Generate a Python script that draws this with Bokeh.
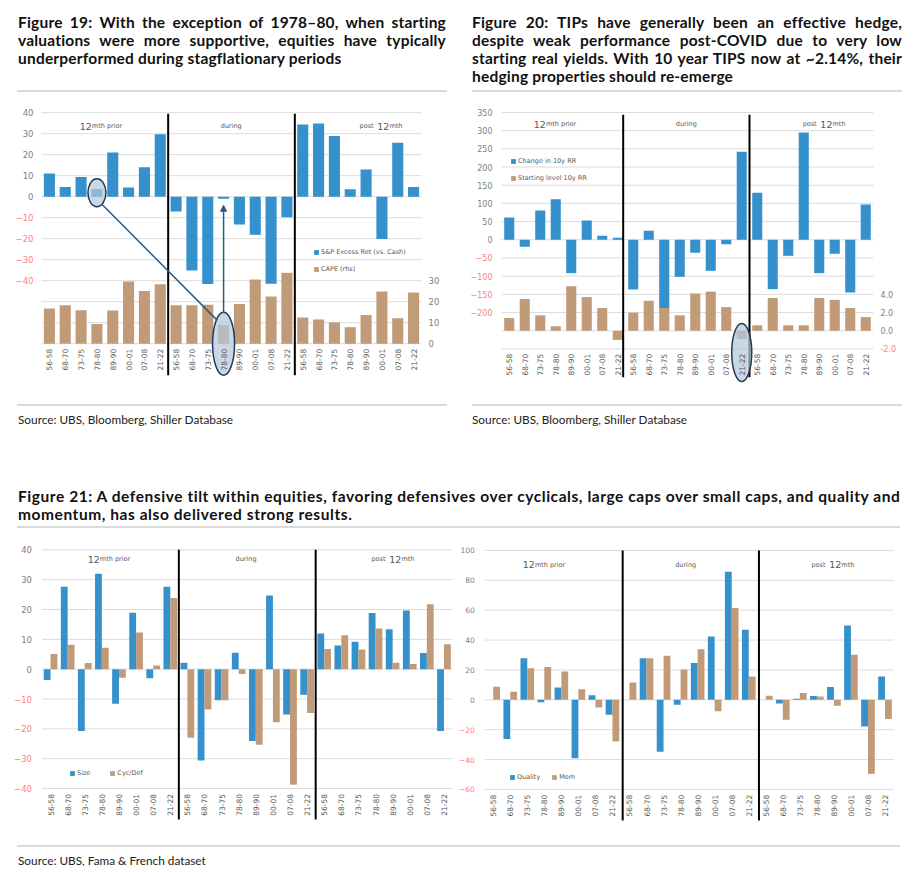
import math
from bokeh.plotting import figure
from bokeh.models import (Range1d, LinearAxis, FixedTicker, CustomJSTickFormatter,
                          PrintfTickFormatter, Legend, LegendItem, Label, Arrow,
                          NormalHead, Div)
from bokeh.layouts import column, row
from bokeh.embed import file_html
from bokeh.resources import INLINE

# ---------------- data ----------------
periods = ["56-58", "68-70", "73-75", "78-80", "89-90", "00-01", "07-08", "21-22"]
x_labels = periods * 3          # 12mth prior | during | post 12mth
phases = ["12mth prior", "during", "post 12mth"]

# Figure 19
sp_excess = [11.1, 4.6, 9.4, 3.7, 21.0, 4.4, 14.0, 29.7,
             -7.1, -35.2, -41.6, -1.0, -13.2, -18.1, -41.4, -9.8,
             34.4, 34.8, 28.9, 3.5, 13.0, -20.2, 25.7, 4.6]
cape_rhs = [16.8, 18.4, 16.0, 9.4, 15.9, 29.7, 25.1, 28.4,
            18.3, 18.3, 18.6, 9.0, 18.9, 30.6, 22.5, 33.8,
            12.5, 11.6, 10.2, 7.9, 13.7, 24.9, 12.2, 24.4]
f19_pos_ticks = [0, 10, 20, 30, 40]
f19_neg_ticks = [-10, -20, -30, -40]
f19_grid = [40, 30, 20, 10, 0, -10, -20, -30, -40, -50, -60, -70]
f19_rhs_ticks = [0, 10, 20, 30]

# Figure 20
rr_change = [61.4, -19.2, 80.6, 111.8, -91.6, 53.1, 11.0, 5.5,
             -136.5, 24.7, -188.0, -101.7, -35.7, -85.2, -11.9, 241.9,
             129.2, -135.6, -44.0, 295.0, -91.6, -38.5, -144.8, 97.1]
rr_start = [1.4, 3.5, 1.7, 0.5, 4.9, 3.7, 2.5, -1.0,
            2.0, 3.3, 2.5, 1.7, 4.1, 4.3, 2.6, -0.9,
            0.6, 3.6, 0.6, 0.6, 3.6, 3.4, 2.5, 1.5]
f20_pos_ticks = [0, 50, 100, 150, 200, 250, 300, 350]
f20_neg_ticks = [-50, -100, -150, -200]
f20_grid = [350, 300, 250, 200, 150, 100, 50, 0, -50, -100, -150, -200, -250, -300]
f20_rhs_pos_ticks = [0.0, 2.0, 4.0]
f20_rhs_neg_ticks = [-2.0]

# Figure 21 (left)
size_f = [-3.6, 27.6, -20.7, 32.0, -11.6, 18.9, -3.0, 27.6,
          2.2, -30.6, -10.4, 5.5, -24.1, 24.7, -15.2, -8.6,
          12.0, 7.9, 9.2, 18.8, 13.4, 19.7, 5.4, -20.7]
cyc_def = [5.1, 8.2, 2.1, 7.2, -2.9, 12.3, 1.2, 23.9,
           -23.0, -13.5, -10.4, -1.6, -25.3, -17.8, -38.7, -14.7,
           6.8, 11.4, 6.6, 13.6, 2.2, 1.7, 21.8, 8.4]
f21a_pos_ticks = [0, 10, 20, 30, 40]
f21a_neg_ticks = [-10, -20, -30, -40]
f21a_grid = [40, 30, 20, 10, 0, -10, -20, -30, -40]

# Figure 21 (right)
quality = [0.0, -26.3, 27.9, -1.6, 8.3, -39.1, 3.1, -10.0,
           0.0, 27.9, -34.8, -3.3, 24.6, 42.4, 85.7, 46.9,
           0.0, -2.5, 0.7, 2.5, 8.5, 49.8, -17.9, 15.6]
momentum = [8.7, 5.4, 21.2, 21.9, 19.0, 7.1, -5.1, -27.9,
            11.6, 27.9, 29.5, 20.3, 33.9, -7.6, 61.4, 15.6,
            2.7, -13.4, 4.5, 2.2, -4.0, 30.1, -49.6, -12.9]
f21b_pos_ticks = [0, 20, 40, 60, 80, 100]
f21b_neg_ticks = [-20, -40, -60]
f21b_grid = [100, 80, 60, 40, 20, 0, -20, -40, -60]

# ---------------- styling ----------------
BLUE = "#3591CC"
BROWN = "#C19B78"
GRID = "#DCDCDC"
POS = "#808080"
NEG = "#FF7C80"
TXT = "#595959"
ANN = "#2C5A80"
AX_FONT = "DejaVu Sans"
N = len(x_labels)
xs = [i + 0.5 for i in range(N)]


def base_fig(w, h, xr, yr):
    p = figure(width=w, height=h, x_range=Range1d(*xr), y_range=Range1d(*yr),
               output_backend="svg", toolbar_location=None, min_border=0,
               x_axis_location=None, y_axis_location=None,
               outline_line_color=None, margin=0)
    p.xgrid.visible = False
    p.ygrid.visible = False
    return p


def y_axis(p, ticks, color, loc, side, standoff, size, rng="default", fmt=None):
    ax = LinearAxis(ticker=FixedTicker(ticks=ticks, minor_ticks=[]), fixed_location=loc,
                    y_range_name=rng)
    ax.axis_line_color = None
    ax.major_tick_line_color = None
    ax.minor_tick_line_color = None
    ax.major_tick_in = 0
    ax.major_tick_out = 0
    ax.minor_tick_in = 0
    ax.minor_tick_out = 0
    ax.major_label_standoff = standoff
    ax.major_label_text_color = color
    ax.major_label_text_font = AX_FONT
    ax.major_label_text_font_size = size
    if fmt is not None:
        ax.formatter = fmt
    p.add_layout(ax, side)


def x_axis(p, loc, size="7.5px"):
    ax = LinearAxis(ticker=FixedTicker(ticks=xs, minor_ticks=[]), fixed_location=loc,
                    formatter=CustomJSTickFormatter(args=dict(labels=x_labels),
                                                    code="return labels[Math.floor(tick)];"))
    ax.axis_line_color = None
    ax.major_tick_line_color = None
    ax.minor_tick_line_color = None
    ax.major_tick_in = 0
    ax.major_tick_out = 0
    ax.minor_tick_in = 0
    ax.minor_tick_out = 0
    ax.major_label_standoff = 0
    ax.major_label_orientation = math.pi / 2
    ax.major_label_text_color = TXT
    ax.major_label_text_font = AX_FONT
    ax.major_label_text_font_size = size
    p.add_layout(ax, "below")


def header(p, x, y, parts):
    widths = [sum((0.64 if c.isdigit() else 0.33 if c == " " else 0.6) * s for c in t)
              for t, s in parts]
    off = -sum(widths) / 2
    for (t, s), w in zip(parts, widths):
        p.add_layout(Label(x=x, y=y, x_offset=off, text=t, text_font=AX_FONT,
                           text_font_size=f"{s}px", text_color=TXT,
                           text_align="left", text_baseline="alphabetic"))
        off += w


def headers(p, xs3, y):
    header(p, xs3[0], y, [("12", 9.5), ("mth prior", 6.5)])
    header(p, xs3[1], y, [("during", 6.5)])
    header(p, xs3[2], y, [("post ", 6.5), ("12", 9.5), ("mth", 6.5)])


def legend(p, items, loc, orientation="vertical", spacing=9):
    lg = Legend(items=[LegendItem(label=l, renderers=[r]) for l, r in items],
                location=loc, orientation=orientation, padding=0, margin=0,
                spacing=spacing, glyph_width=6, glyph_height=6, label_standoff=2,
                label_height=6, label_width=10, label_text_font=AX_FONT,
                label_text_font_size="6.5px", label_text_color=TXT,
                border_line_color=None, background_fill_alpha=0)
    p.add_layout(lg)


# ---------------- Figure 19 ----------------
p19 = base_fig(447, 300, (-2.084, 26.147), (-94.67, 48.19))
p19.extra_y_ranges = {"cape": Range1d(-24.62, 118.24)}
p19.segment(x0=0, x1=N, y0=f19_grid, y1=f19_grid, line_color=GRID, line_width=1)
r_sp = p19.vbar(x=xs, top=sp_excess, bottom=0, width=0.7, fill_color=BLUE, line_color=None)
r_cape = p19.vbar(x=xs, top=cape_rhs, bottom=0, width=0.7, fill_color=BROWN,
                  line_color=None, y_range_name="cape")
p19.segment(x0=[8, 16], x1=[8, 16], y0=39.5, y1=-85, line_color="black", line_width=2)
i_hi = periods.index("78-80")
# highlight ellipses
p19.ellipse(x=[xs[i_hi]], y=[sp_excess[i_hi] / 2], width=18, height=28,
            width_units="screen", height_units="screen",
            fill_color="#B4C8DA", fill_alpha=0.7, line_color="#1E3A56", line_width=1.5)
p19.ellipse(x=[xs[8 + i_hi]], y=[0], width=22, height=63,
            width_units="screen", height_units="screen", y_range_name="cape",
            fill_color="#B4C8DA", fill_alpha=0.7, line_color="#1E3A56", line_width=1.5)
p19.add_layout(Arrow(end=None, x_start=3.83, y_start=-3.7, x_end=11.1, y_end=-58.9,
                     line_color=ANN, line_width=1.5))
p19.add_layout(Arrow(end=NormalHead(size=6, fill_color=ANN, line_color=ANN),
                     x_start=xs[8 + i_hi], y_start=-55.4, x_end=xs[8 + i_hi], y_end=-4.1,
                     line_color=ANN, line_width=1.5))
y_axis(p19, f19_pos_ticks, POS, 0, "left", 8, "8.5px")
y_axis(p19, f19_neg_ticks, NEG, 0, "left", 8, "8.5px")
y_axis(p19, f19_rhs_ticks, POS, N, "right", 7, "8.5px", rng="cape")
x_axis(p19, -72.4)
headers(p19, [3.85, 12.06, 21.4], 33.5)
legend(p19, [("S&P Excess Ret (vs. Cash)", r_sp), ("CAPE (rhs)", r_cape)], (305, 122))

# ---------------- Figure 20 ----------------
p20 = base_fig(452, 300, (-2.968, 26.194), (-427.9, 396.6))
p20.extra_y_ranges = {"rr": Range1d(-7.116, 25.864)}
p20.segment(x0=0, x1=N, y0=f20_grid, y1=f20_grid, line_color=GRID, line_width=1)
r_ch = p20.vbar(x=xs, top=rr_change, bottom=0, width=0.65, fill_color=BLUE, line_color=None)
r_st = p20.vbar(x=xs, top=rr_start, bottom=0, width=0.65, fill_color=BROWN,
                line_color=None, y_range_name="rr")
p20.segment(x0=[7.85, 16.0], x1=[7.85, 16.0], y0=344, y1=-378, line_color="black", line_width=2)
i_cov = periods.index("21-22")
p20.ellipse(x=[xs[8 + i_cov]], y=[-2.4], width=20, height=58,
            width_units="screen", height_units="screen", y_range_name="rr",
            fill_color="#B4C8DA", fill_alpha=0.7, line_color="#1E3A56", line_width=1.5)
y_axis(p20, f20_pos_ticks, POS, 0, "left", 9, "8px")
y_axis(p20, f20_neg_ticks, NEG, 0, "left", 9, "8px")
y_axis(p20, f20_rhs_pos_ticks, POS, N, "right", 7, "8px", rng="rr",
       fmt=PrintfTickFormatter(format="%.1f"))
y_axis(p20, f20_rhs_neg_ticks, NEG, N, "right", 7, "8px", rng="rr",
       fmt=PrintfTickFormatter(format="%.1f"))
x_axis(p20, -313.3)
headers(p20, [3.55, 12.0, 20.77], 317.7)
legend(p20, [("Change in 10y RR", r_ch), ("Starting level 10y RR", r_st)], (55, 213))

# ---------------- Figure 21 left ----------------
p21a = base_fig(447, 295, (-1.959, 24.175), (-55.75, 43.14))
p21a.segment(x0=0, x1=N, y0=f21a_grid, y1=f21a_grid, line_color=GRID, line_width=1)
r_size = p21a.vbar(x=[x - 0.2 for x in xs], top=size_f, bottom=0, width=0.4,
                   fill_color=BLUE, line_color=None)
r_cd = p21a.vbar(x=[x + 0.2 for x in xs], top=cyc_def, bottom=0, width=0.4,
                 fill_color=BROWN, line_color=None)
p21a.segment(x0=[8, 16], x1=[8, 16], y0=40, y1=-50.4, line_color="black", line_width=2)
y_axis(p21a, f21a_pos_ticks, POS, 0, "left", 10, "8.5px")
y_axis(p21a, f21a_neg_ticks, NEG, 0, "left", 10, "8.5px")
x_axis(p21a, -41.8)
headers(p21a, [4.0, 12.0, 20.48], 36.8)
legend(p21a, [("Size", r_size), ("Cyc/Def", r_cd)], (61, 58), "horizontal", 19)

# ---------------- Figure 21 right ----------------
p21b = base_fig(452, 295, (-1.714, 24.82), (-90.86, 106.66))
p21b.segment(x0=0, x1=N, y0=f21b_grid, y1=f21b_grid, line_color=GRID, line_width=1)
r_q = p21b.vbar(x=[x - 0.2 for x in xs], top=quality, bottom=0, width=0.4,
                fill_color=BLUE, line_color=None)
r_m = p21b.vbar(x=[x + 0.2 for x in xs], top=momentum, bottom=0, width=0.4,
                fill_color=BROWN, line_color=None)
p21b.segment(x0=[8.1, 16.1], x1=[8.1, 16.1], y0=100, y1=-80.8, line_color="black", line_width=2)
y_axis(p21b, f21b_pos_ticks, POS, 0, "left", 10, "7.5px")
y_axis(p21b, f21b_neg_ticks, NEG, 0, "left", 10, "7.5px")
x_axis(p21b, -63.6)
headers(p21b, [3.57, 11.87, 20.4], 90.4)
legend(p21b, [("Quality", r_q), ("Mom", r_m)], (54, 54), "horizontal", 11)

# ---------------- text blocks ----------------
TFONT = "Lato, 'Open Sans', sans-serif"
title19 = ["Figure 19: With the exception of 1978–80, when starting",
           "valuations were more supportive, equities have typically",
           "underperformed during stagflationary periods"]
title20 = ["Figure 20: TIPs have generally been an effective hedge,",
           "despite weak performance post-COVID due to very low",
           "starting real yields. With 10 year TIPS now at ~2.14%, their",
           "hedging properties should re-emerge"]
title21 = ["Figure 21: A defensive tilt within equities, favoring defensives over cyclicals, "
           "large caps over small caps, and quality and",
           "momentum, has also delivered strong results."]
src_top = "Source: UBS, Bloomberg, Shiller Database"
src_bottom = "Source: UBS, Fama &amp; French dataset"


def lines_html(lines, justify_all_but_last=True):
    out = []
    for k, t in enumerate(lines):
        last = k == len(lines) - 1
        if justify_all_but_last and not last:
            out.append(f'<div style="text-align:justify;text-align-last:justify;">{t}</div>')
        else:
            out.append(f'<div style="white-space:nowrap;">{t}</div>')
    return "".join(out)


def rule(left, top, width):
    return (f'<div style="position:absolute;left:{left}px;top:{top}px;width:{width}px;'
            f'height:2px;background:#DADADA;"></div>')


def title_block(left, top, width, lines, size, spacing, justify=True):
    return (f'<div style="position:absolute;left:{left}px;top:{top}px;width:{width}px;'
            f'font-family:{TFONT};font-weight:700;font-size:{size}px;line-height:18px;'
            f'letter-spacing:{spacing}px;color:#111;">{lines_html(lines, justify)}</div>')


def src_block(left, top, text, lh=14):
    return (f'<div style="position:absolute;left:{left}px;top:{top}px;white-space:nowrap;'
            f'font-family:{TFONT};font-size:11.8px;line-height:{lh}px;color:#222;">{text}</div>')


def box(w, h, inner):
    return (f'<div style="position:relative;width:{w}px;height:{h}px;overflow:hidden;">'
            f'{inner}</div>')


d19 = Div(width=447, height=87, margin=0,
          text=box(447, 87, title_block(10, 5, 428, title19, 15.5, 0.2) + rule(9, 82, 430)))
d20 = Div(width=452, height=87, margin=0,
          text=box(452, 87, title_block(17, 5, 430, title20, 15.5, 0.2) + rule(17, 82, 430)))
dmid = Div(width=899, height=145, margin=0,
           text=box(899, 145,
                    rule(9, 9, 430) + rule(464, 9, 430)
                    + src_block(10, 18, src_top) + src_block(464, 18, src_top)
                    + title_block(10, 92, 890, title21, 15.5, 0.56, justify=False)
                    + rule(9, 131, 883)))
dbot = Div(width=899, height=34, margin=0,
           text=box(899, 34, rule(9, 10, 883) + src_block(10, 20, src_bottom, 12)))

layout = column(row(d19, d20, margin=0), row(p19, p20, margin=0), dmid,
                row(p21a, p21b, margin=0), dbot, margin=(8, 0, 0, 8))

open("out.html", "w").write(file_html(layout, INLINE))
